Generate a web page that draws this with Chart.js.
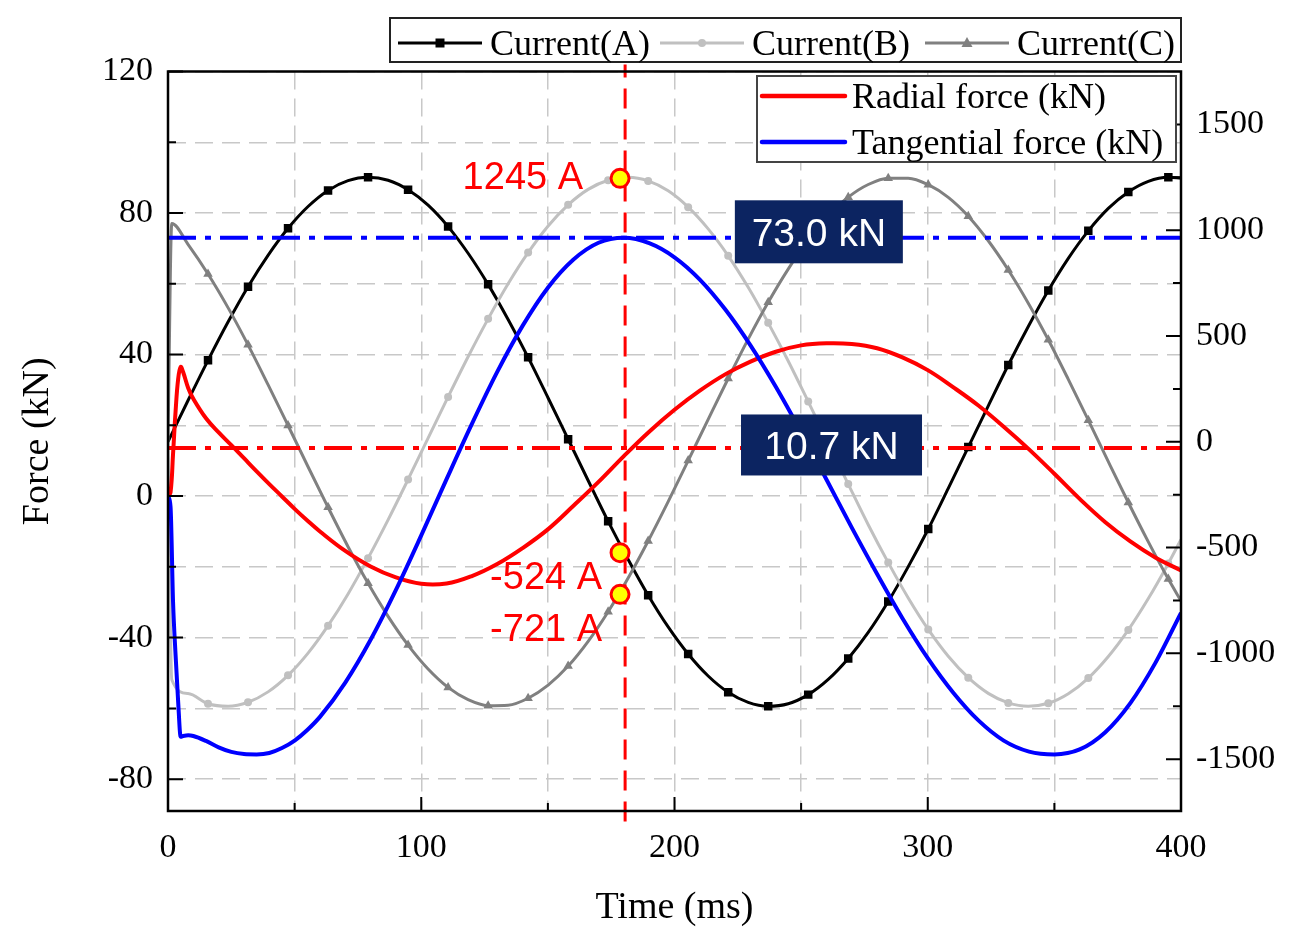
<!doctype html>
<html lang="en">
<head>
<meta charset="UTF-8">
<title>Force and phase current</title>
<style>
  html, body { margin: 0; padding: 0; background: #fff; }
  #wrap { width: 1294px; height: 931px; }
</style>
</head>
<body>
<div id="wrap"><canvas id="force-chart" width="1294" height="931"></canvas></div>
<script src="https://cdn.jsdelivr.net/npm/chart.js@4.4.1/dist/chart.umd.min.js"></script>
<script>
// ---- data ----
// phase currents (A), right axis
const currentTime = [0, 1.5, 7.9, 15.8, 23.7, 31.6, 39.5, 47.4, 55.3, 63.2, 71.1, 79, 86.9, 94.8, 102.7, 110.6,
  118.5, 126.4, 134.3, 142.2, 150.1, 158, 165.9, 173.8, 181.7, 189.6, 197.5, 205.4, 213.3, 221.2, 229.1, 237,
  244.9, 252.8, 260.7, 268.6, 276.5, 284.4, 292.3, 300.2, 308.1, 316, 323.9, 331.8, 339.7, 347.6, 355.5, 363.4,
  371.3, 379.2, 387.1, 395, 400];
const currentA = [0, 37, 195, 385, 566, 733, 881, 1009, 1112, 1188, 1234, 1250, 1236, 1191, 1118, 1017, 891, 744,
  578, 399, 207, 12, -183, -376, -556, -725, -875, -1003, -1107, -1184, -1232, -1250, -1238, -1195, -1123, -1024,
  -901, -755, -590, -412, -220, -25, 170, 363, 545, 715, 867, 997, 1103, 1181, 1231, 1250, 1246];
const currentB = [0, -1125, -1190, -1238, -1250, -1231, -1182, -1104, -999, -869, -719, -550, -369, -178, 17, 212,
  402, 581, 747, 894, 1020, 1120, 1193, 1236, 1250, 1233, 1186, 1109, 1006, 879, 730, 562, 382, 190, -5, -200,
  -392, -571, -738, -887, -1014, -1115, -1189, -1234, -1250, -1236, -1191, -1117, -1015, -889, -741, -575, -462];
const currentC = [0, 1032, 933, 793, 634, 458, 270, 77, -118, -310, -496, -669, -825, -961, -1074, -1161, -1219,
  -1247, -1245, -1212, -1150, -1060, -943, -803, -644, -469, -283, -89, 106, 299, 485, 659, 816, 954, 1068, 1156,
  1216, 1246, 1246, 1215, 1155, 1066, 950, 812, 655, 482, 295, 102, -94, -287, -473, -649, -752];

// forces (kN), left axis
const forceTime = [0, 1, 2, 3, 4, 5, 6, 8, 10, 15, 20, 25, 30, 35, 40, 45, 50, 55, 60, 70, 80, 90, 100, 110, 120,
  130, 140, 150, 160, 170, 180, 190, 200, 210, 220, 230, 240, 250, 260, 270, 280, 290, 300, 310, 320, 330, 340,
  350, 360, 370, 380, 390, 400];
const radialForce = [0, 1, 12, 24, 33, 36.5, 35, 30.5, 27.5, 22, 18, 14.4, 10.7, 7, 3.4, -0.1, -3.6, -6.9, -10,
  -15.5, -19.9, -23, -24.8, -24.7, -22.6, -19.2, -14.7, -9.4, -2.8, 4, 11.3, 18.2, 24.4, 29.8, 34.4, 38, 40.8,
  42.6, 43.2, 43, 41.8, 39.2, 35.6, 30.8, 25.6, 19.6, 13.2, 6.3, -0.8, -7.3, -12.8, -17.4, -21];
const tangentialForce = [0, -3, -30, -45, -58, -68, -67.8, -67.6, -67.8, -69.2, -71, -72.3, -72.9, -73, -72.6,
  -71.2, -69.1, -66.1, -62.4, -52.7, -40.6, -26.5, -11.1, 4.8, 20.4, 35.1, 48.1, 58.9, 66.8, 71.6, 73, 71.5, 67.5,
  61.2, 52.8, 42.6, 30.9, 18.1, 4.7, -8.9, -22, -34.5, -45.8, -55.5, -63.4, -69.1, -72.2, -73, -71.6, -66.8,
  -58.5, -47, -33];

// mean force lines and their labels
const tangentialMean = 73.0;
const radialMeanLine = 13.6;
const meanLabels = ['73.0 kN', '10.7 kN'];
const meanLabelTime = [257, 262];

// probe at the cursor line
const cursorTime = 180.5;
const probeTime = 178.5;
const probeCurrents = [1245, -524, -721];
const probeLabels = ['1245 A', '-524 A', '-721 A'];

// axes
const xTicks = [0, 50, 100, 150, 200, 250, 300, 350, 400];
const yLeftTicks = [-80, -60, -40, -20, 0, 20, 40, 60, 80, 100, 120];
const yRightTicks = [-1500, -1250, -1000, -750, -500, -250, 0, 250, 500, 750, 1000, 1250, 1500];

const serif = "'Liberation Serif', 'Times New Roman', serif";
const sans = "'Liberation Sans', Arial, sans-serif";
const navy = '#0c2461';
const colA = '#000000', colB = '#c0c0c0', colC = '#808080';

const pts = (xs, ys) => xs.map((x, i) => ({x: x, y: ys[i]}));
const markerRadius = r => ctx => (ctx.index % 2 === 1 && ctx.index >= 3 && ctx.index <= 51) ? r : 0;

function drawMarker(ctx, style, x, y, color) {
  ctx.fillStyle = color;
  ctx.beginPath();
  if (style === 'rect') ctx.rect(x - 4.5, y - 4.5, 9, 9);
  else if (style === 'circle') ctx.arc(x, y, 4, 0, Math.PI * 2);
  else { ctx.moveTo(x, y - 6); ctx.lineTo(x + 5.5, y + 4); ctx.lineTo(x - 5.5, y + 4); ctx.closePath(); }
  ctx.fill();
}

const overlay = {
  id: 'overlay',
  afterDraw(chart) {
    const {ctx, chartArea: a} = chart;
    const xs = chart.scales.x, yl = chart.scales.y, yr = chart.scales.yR;
    ctx.save();

    // inward ticks
    ctx.strokeStyle = '#000';
    ctx.lineWidth = 2;
    ctx.setLineDash([]);
    ctx.beginPath();
    xs.ticks.forEach(t => {
      const p = xs.getPixelForValue(t.value);
      ctx.moveTo(p, a.bottom); ctx.lineTo(p, a.bottom - (t.value % 100 === 0 ? 14 : 8));
    });
    yl.ticks.forEach(t => {
      const p = yl.getPixelForValue(t.value);
      ctx.moveTo(a.left, p); ctx.lineTo(a.left + (t.value % 40 === 0 ? 15 : 8), p);
    });
    yr.ticks.forEach(t => {
      const p = yr.getPixelForValue(t.value);
      ctx.moveTo(a.right, p); ctx.lineTo(a.right - (t.value % 500 === 0 ? 15 : 8), p);
    });
    ctx.stroke();

    // frame
    ctx.lineWidth = 2.5;
    ctx.strokeRect(a.left, a.top, a.right - a.left, a.bottom - a.top);

    // mean value boxes
    const boxes = [
      {label: meanLabels[0], t: meanLabelTime[0], v: tangentialMean, w: 168, h: 63, dy: -6},
      {label: meanLabels[1], t: meanLabelTime[1], v: radialMeanLine, w: 181, h: 61, dy: -3}
    ];
    ctx.font = '39px ' + sans;
    ctx.textAlign = 'center';
    ctx.textBaseline = 'alphabetic';
    boxes.forEach(b => {
      const cx = xs.getPixelForValue(b.t), cy = yl.getPixelForValue(b.v) + b.dy;
      ctx.fillStyle = navy;
      ctx.fillRect(cx - b.w / 2, cy - b.h / 2, b.w, b.h);
      ctx.fillStyle = '#ffffff';
      ctx.fillText(b.label, cx, cy + 14);
    });

    // probe labels
    const offs = [[-37, -3], [-18, 22], [-18, 33]];
    ctx.font = '38px ' + sans;
    ctx.textAlign = 'right';
    ctx.fillStyle = '#ff0000';
    probeCurrents.forEach((v, i) => {
      const px = xs.getPixelForValue(probeTime), py = yr.getPixelForValue(v);
      ctx.fillText(probeLabels[i], px + offs[i][0], py + offs[i][1] + 14);
    });

    // legend 1: currents
    ctx.fillStyle = '#fff';
    ctx.fillRect(390, 18, 791, 44);
    ctx.strokeStyle = '#222';
    ctx.lineWidth = 2;
    ctx.strokeRect(390, 18, 791, 44);
    const leg1 = [
      {text: 'Current(A)', color: colA, style: 'rect', x: 398},
      {text: 'Current(B)', color: colB, style: 'circle', x: 660},
      {text: 'Current(C)', color: colC, style: 'triangle', x: 925}
    ];
    ctx.font = '36px ' + serif;
    ctx.textAlign = 'left';
    leg1.forEach(it => {
      ctx.strokeStyle = it.color;
      ctx.lineWidth = 3;
      ctx.beginPath(); ctx.moveTo(it.x, 43); ctx.lineTo(it.x + 84, 43); ctx.stroke();
      drawMarker(ctx, it.style, it.x + 42, 43, it.color);
      ctx.fillStyle = '#000';
      ctx.fillText(it.text, it.x + 92, 55);
    });

    // legend 2: forces
    ctx.fillStyle = '#fff';
    ctx.fillRect(757, 76, 419, 86);
    ctx.strokeStyle = '#444';
    ctx.lineWidth = 2;
    ctx.strokeRect(757, 76, 419, 86);
    const leg2 = [
      {text: 'Radial force (kN)', color: '#ff0000', y: 96},
      {text: 'Tangential force (kN)', color: '#0000ff', y: 142}
    ];
    leg2.forEach(it => {
      ctx.strokeStyle = it.color;
      ctx.lineWidth = 4.5;
      ctx.lineCap = 'round';
      ctx.beginPath(); ctx.moveTo(762, it.y); ctx.lineTo(845, it.y); ctx.stroke();
      ctx.fillStyle = '#000';
      ctx.fillText(it.text, 852, it.y + 12);
    });
    ctx.restore();
  }
};

const tickFont = {family: serif, size: 34};

new Chart(document.getElementById('force-chart'), {
  type: 'line',
  data: {
    datasets: [
      {
        label: 'probe', data: probeCurrents.map(v => ({x: probeTime, y: v})), yAxisID: 'yR',
        showLine: false, pointRadius: 9, pointBackgroundColor: '#ffff00', pointBorderColor: '#ff0000',
        pointBorderWidth: 3, order: 0
      },
      {
        label: 'cursor', data: [{x: cursorTime, y: -92}, {x: cursorTime, y: 122}], yAxisID: 'y',
        borderColor: '#ff0000', borderWidth: 3, borderDash: [20, 11], pointRadius: 0, clip: false, order: 1
      },
      {
        label: 'tangential mean', data: [{x: 0, y: tangentialMean}, {x: 400, y: tangentialMean}], yAxisID: 'y',
        borderColor: '#0000ff', borderWidth: 4, borderDash: [28, 9, 6, 9], pointRadius: 0, order: 2
      },
      {
        label: 'radial mean', data: [{x: 0, y: radialMeanLine}, {x: 400, y: radialMeanLine}], yAxisID: 'y',
        borderColor: '#ff0000', borderWidth: 4, borderDash: [28, 9, 6, 9], pointRadius: 0, order: 2
      },
      {
        label: 'Tangential force (kN)', data: pts(forceTime, tangentialForce), yAxisID: 'y',
        borderColor: '#0000ff', borderWidth: 4, pointRadius: 0, cubicInterpolationMode: 'monotone', order: 3
      },
      {
        label: 'Radial force (kN)', data: pts(forceTime, radialForce), yAxisID: 'y',
        borderColor: '#ff0000', borderWidth: 4, pointRadius: 0, tension: 0.4, order: 4
      },
      {
        label: 'Current(C)', data: pts(currentTime, currentC), yAxisID: 'yR',
        borderColor: colC, backgroundColor: colC, borderWidth: 3, pointStyle: 'triangle',
        pointRadius: markerRadius(5.5), pointBorderWidth: 0, cubicInterpolationMode: 'monotone', order: 5
      },
      {
        label: 'Current(B)', data: pts(currentTime, currentB), yAxisID: 'yR',
        borderColor: colB, backgroundColor: colB, borderWidth: 3, pointStyle: 'circle',
        pointRadius: markerRadius(4), pointBorderWidth: 0, cubicInterpolationMode: 'monotone', order: 6
      },
      {
        label: 'Current(A)', data: pts(currentTime, currentA), yAxisID: 'yR',
        borderColor: colA, backgroundColor: colA, borderWidth: 3, pointStyle: 'rect',
        pointRadius: markerRadius(6), pointBorderWidth: 0, cubicInterpolationMode: 'monotone', order: 7
      }
    ]
  },
  options: {
    responsive: false,
    animation: false,
    events: [],
    layout: {padding: {top: 71.5, left: 0, right: 0, bottom: 0}},
    plugins: {legend: {display: false}, tooltip: {enabled: false}},
    scales: {
      x: {
        type: 'linear', min: 0, max: 400,
        afterBuildTicks: s => { s.ticks = xTicks.map(v => ({value: v})); },
        afterFit: s => { s.height = 120; },
        ticks: {
          callback: v => v % 100 === 0 ? v : '', font: tickFont, color: '#000', padding: 17,
          maxRotation: 0, autoSkip: false
        },
        grid: {color: '#c8c8c8', lineWidth: 1.5, drawTicks: false},
        border: {display: false, dash: [18, 9]},
        title: {display: true, text: 'Time (ms)', color: '#000', font: {family: serif, size: 38}, padding: {top: 0, bottom: 0}}
      },
      y: {
        position: 'left', min: -89, max: 120,
        afterBuildTicks: s => { s.ticks = yLeftTicks.map(v => ({value: v})); },
        afterFit: s => { s.width = 168; },
        ticks: {callback: v => v % 40 === 0 ? v : '', font: tickFont, color: '#000', padding: 15, autoSkip: false},
        grid: {color: '#c8c8c8', lineWidth: 1.5, drawTicks: false},
        border: {display: false, dash: [18, 9]},
        title: {display: true, text: 'Force (kN)', color: '#000', font: {family: serif, size: 38}, padding: {top: 15, bottom: 0}}
      },
      yR: {
        position: 'right', min: -1745, max: 1750,
        afterBuildTicks: s => { s.ticks = yRightTicks.map(v => ({value: v})); },
        afterFit: s => { s.width = 113; },
        ticks: {callback: v => v % 500 === 0 ? v : '', font: tickFont, color: '#000', padding: 15, autoSkip: false},
        grid: {drawOnChartArea: false, drawTicks: false},
        border: {display: false}
      }
    }
  },
  plugins: [overlay]
});
</script>
</body>
</html>
